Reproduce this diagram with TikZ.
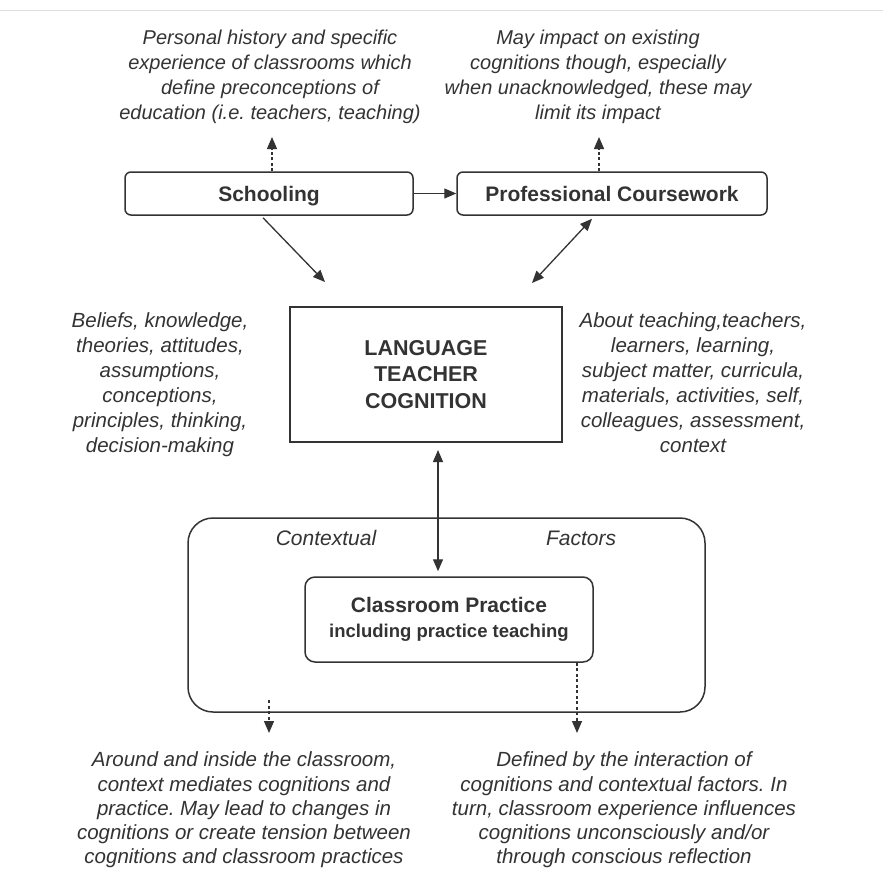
\documentclass[tikz,border=0pt]{standalone}
\usepackage{fontspec}
\setmainfont{Liberation Sans}
\usetikzlibrary{arrows.meta}
\definecolor{ink}{HTML}{333333}
\frenchspacing
\begin{document}
\begin{tikzpicture}[x=1pt,y=-1pt,
  box/.style={draw=ink, line width=1.5pt, rounded corners=6pt, inner sep=0pt, text=ink, font=\fontsize{21}{25}\selectfont\bfseries},
  flatbox/.style={box, text height=18pt, text depth=1.5pt},
  note/.style={align=center, text=ink, font=\fontsize{20.5}{25}\selectfont\itshape, inner sep=0pt},
  arr/.style={draw=ink, line width=1.3pt, -{Triangle[length=12pt,width=10pt]}},
  darr/.style={draw=ink, line width=1.3pt, {Triangle[length=12pt,width=10pt]}-{Triangle[length=12pt,width=10pt]}},
  dasharr/.style={arr, dash pattern=on 3pt off 2.5pt}
]
\useasboundingbox (0,0) rectangle (883,881);
\fill[white] (0,0) rectangle (883,881);
\draw[gray!25, line width=1pt] (0,10) -- (883,10);

\node[flatbox, minimum width=288pt, minimum height=43pt] (sch) at (269,193.5) {Schooling};
\node[flatbox, minimum width=310pt, minimum height=43pt] (prof) at (612,193.5) {Professional Coursework};
\node[box, rounded corners=0pt, line width=2pt, minimum width=272pt, minimum height=135pt, align=center, font=\fontsize{21.5}{26.5}\selectfont\bfseries] (ltc) at (426,374.5) {LANGUAGE\\TEACHER\\COGNITION};
\node[box, rounded corners=25pt, minimum width=517pt, minimum height=194pt] (ctx) at (446.5,615) {};
\node[box, rounded corners=10pt, minimum width=288pt, minimum height=85pt, align=center] (cp) at (449,619.5) {Classroom Practice\\{\fontsize{18.5}{22}\selectfont including practice teaching}};

\node[note, font=\fontsize{21}{25}\selectfont\itshape] (ctxl) at (326,538) {Contextual};
\node[note, font=\fontsize{21}{25}\selectfont\itshape] (ctxr) at (581,538) {Factors};

\node[note, font=\fontsize{20}{25}\selectfont\itshape] (n1) at (270,77) {Personal history and specific\\experience of classrooms which\\define preconceptions of\\education (i.e. teachers, teaching)};
\node[note, font=\fontsize{20}{25}\selectfont\itshape] (n2) at (598,77) {May impact on existing\\cognitions though, especially\\when unacknowledged, these may\\limit its impact};
\node[note] (n3) at (160,384.5) {Beliefs, knowledge,\\theories, attitudes,\\assumptions,\\conceptions,\\principles, thinking,\\decision-making};
\node[note] (n4) at (693,382.5) {About teaching,teachers,\\learners, learning,\\subject matter, curricula,\\materials, activities, self,\\colleagues, assessment,\\context};
\node[note, font=\fontsize{20.5}{24.2}\selectfont\itshape] (n5) at (244,810) {Around and inside the classroom,\\context mediates cognitions and\\practice. May lead to changes in\\cognitions or create tension between\\cognitions and classroom practices};
\node[note, font=\fontsize{20.5}{24.2}\selectfont\itshape] (n6) at (624,810) {Defined by the interaction of\\cognitions and contextual factors. In\\turn, classroom experience influences\\cognitions unconsciously and/or\\through conscious reflection};

\coordinate (up1) at (272,137);
\draw[dasharr] (up1 |- sch.north) -- (up1);
\coordinate (up2) at (599,137);
\draw[dasharr] (up2 |- prof.north) -- (up2);
\draw[arr] (sch.east) -- (prof.west);
\coordinate (a1) at (325,282);
\draw[arr] ([xshift=-6pt,yshift=-2pt]sch.south) -- (a1);
\coordinate (a2) at (532,283);
\draw[darr] ([xshift=-20pt,yshift=-3pt]prof.south) -- (a2);
\coordinate (vx) at (438,0);
\draw[darr, shorten <=7pt, shorten >=5pt] (vx |- ltc.south) -- (vx |- cp.north);
\coordinate (d1) at (577,733);
\draw[dasharr] (d1 |- cp.south) -- (d1);
\coordinate (d2s) at (269,700);
\coordinate (d2) at (269,733);
\draw[dasharr] (d2s) -- (d2);
\end{tikzpicture}
\end{document}
